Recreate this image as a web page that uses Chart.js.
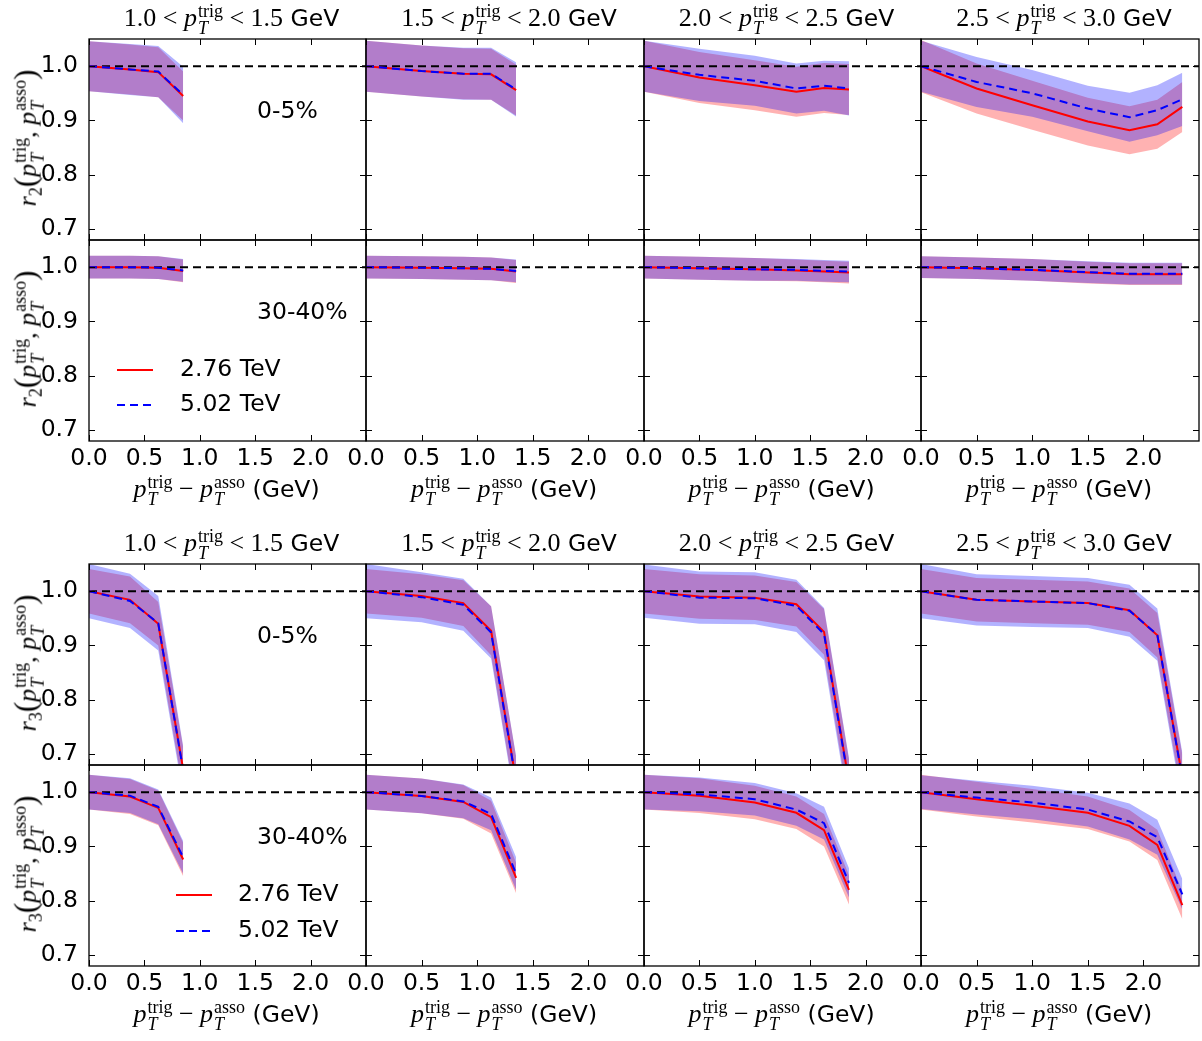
<!DOCTYPE html>
<html>
<head>
<meta charset="utf-8">
<script src="https://cdn.jsdelivr.net/npm/chart.js@4.4.1/dist/chart.umd.min.js"></script>
<style>
  body { margin: 0; background: #fff; }
  #fig { position: relative; width: 1202px; height: 1041px; overflow: hidden; }
  #fig canvas { position: absolute; }
  .lab { position: absolute; white-space: nowrap; font: 23.5px "DejaVu Sans", sans-serif; color: #000; line-height: 1; transform: translate(-50%, -50%); }
  .rot { transform: translate(-50%, -50%) rotate(-90deg); }
  .m { font-family: "Liberation Serif", "DejaVu Serif", serif; font-size: 26px; }
  .it { font-style: italic; }
  .ss { display: inline-block; vertical-align: -0.42em; font-size: 18px; line-height: 0.95; margin-left: 1px; }
  .ss span { display: block; }
  .sb { font-size: 18px; vertical-align: -0.35em; }
  .par { font-size: 31px; }
</style>
</head>
<body>
<div id="fig"></div>
<script>
// axis setup
const xTicks = [0, 0.5, 1.0, 1.5, 2.0];
const yTicks = [0.7, 0.8, 0.9, 1.0];
const xRange = [0, 2.5];
const yRange = [0.68, 1.05];
const unity = [1, 1];
const trigBins = ['1.0', '1.5', '2.0', '2.5', '3.0'];
const centralities = ['0-5%', '30-40%'];
const energies = ['2.76 TeV', '5.02 TeV'];

// pT^trig - pT^asso points, one list per trigger bin (column)
const dpT = [
  [0, 0.37, 0.625, 0.85],
  [0, 0.5, 0.875, 1.125, 1.35],
  [0, 0.5, 1.0, 1.375, 1.625, 1.85],
  [0, 0.5, 1.0, 1.5, 1.875, 2.125, 2.35]
];

// r2, 0-5%
const r2Cent276 = [
  [1.0, 0.994, 0.989, 0.945],
  [1.0, 0.991, 0.986, 0.985, 0.956],
  [1.0, 0.979, 0.965, 0.953, 0.960, 0.957],
  [1.0, 0.959, 0.928, 0.898, 0.882, 0.893, 0.925]
];
const r2Cent276Err = [
  [0.046, 0.046, 0.046, 0.045],
  [0.047, 0.047, 0.047, 0.047, 0.047],
  [0.047, 0.047, 0.046, 0.046, 0.046, 0.047],
  [0.048, 0.046, 0.045, 0.044, 0.044, 0.045, 0.046]
];
const r2Cent502 = [
  [1.0, 0.994, 0.990, 0.947],
  [1.0, 0.991, 0.986, 0.986, 0.957],
  [1.0, 0.984, 0.973, 0.959, 0.964, 0.959],
  [1.0, 0.971, 0.950, 0.922, 0.906, 0.919, 0.939]
];
const r2Cent502Err = [
  [0.046, 0.047, 0.047, 0.052],
  [0.047, 0.047, 0.048, 0.048, 0.050],
  [0.047, 0.048, 0.046, 0.046, 0.046, 0.050],
  [0.047, 0.046, 0.043, 0.042, 0.045, 0.046, 0.049]
];

// r2, 30-40%
const r2Peri276 = [
  [1.0, 1.0, 0.999, 0.993],
  [1.0, 0.999, 0.998, 0.997, 0.992],
  [1.0, 0.998, 0.996, 0.994, 0.992, 0.990],
  [1.0, 0.998, 0.995, 0.990, 0.987, 0.987, 0.987]
];
const r2Peri276Err = [
  [0.021, 0.021, 0.021, 0.021],
  [0.021, 0.021, 0.021, 0.021, 0.021],
  [0.021, 0.021, 0.021, 0.020, 0.020, 0.020],
  [0.020, 0.020, 0.020, 0.020, 0.020, 0.020, 0.020]
];
const r2Peri502 = [
  [1.0, 1.0, 0.999, 0.994],
  [1.0, 0.999, 0.998, 0.997, 0.993],
  [1.0, 0.998, 0.996, 0.995, 0.993, 0.992],
  [1.0, 0.998, 0.995, 0.991, 0.988, 0.988, 0.988]
];
const r2Peri502Err = [
  [0.021, 0.021, 0.021, 0.021],
  [0.021, 0.021, 0.021, 0.021, 0.021],
  [0.021, 0.021, 0.021, 0.020, 0.020, 0.020],
  [0.020, 0.020, 0.020, 0.020, 0.020, 0.020, 0.020]
];

// r3, 0-5%
const r3Cent276 = [
  [1.0, 0.984, 0.940, 0.672],
  [1.0, 0.991, 0.978, 0.927, 0.650],
  [1.0, 0.990, 0.988, 0.976, 0.925, 0.648],
  [1.0, 0.984, 0.981, 0.978, 0.965, 0.919, 0.658]
];
const r3Cent276Err = [
  [0.041, 0.043, 0.040, 0.040],
  [0.041, 0.040, 0.042, 0.045, 0.045],
  [0.041, 0.041, 0.041, 0.041, 0.042, 0.042],
  [0.041, 0.040, 0.040, 0.040, 0.040, 0.041, 0.041]
];
const r3Cent502 = [
  [1.0, 0.982, 0.941, 0.670],
  [1.0, 0.989, 0.975, 0.924, 0.648],
  [1.0, 0.988, 0.987, 0.973, 0.921, 0.645],
  [1.0, 0.984, 0.981, 0.978, 0.964, 0.920, 0.655]
];
const r3Cent502Err = [
  [0.050, 0.050, 0.050, 0.045],
  [0.050, 0.046, 0.048, 0.048, 0.048],
  [0.049, 0.048, 0.048, 0.048, 0.048, 0.048],
  [0.050, 0.047, 0.047, 0.046, 0.048, 0.048, 0.048]
];

// r3, 30-40%
const r3Peri276 = [
  [1.0, 0.992, 0.971, 0.876],
  [1.0, 0.993, 0.982, 0.954, 0.842],
  [1.0, 0.9935, 0.981, 0.962, 0.930, 0.820],
  [1.0, 0.987, 0.975, 0.962, 0.938, 0.903, 0.792]
];
const r3Peri276Err = [
  [0.032, 0.032, 0.032, 0.031],
  [0.032, 0.032, 0.031, 0.030, 0.028],
  [0.032, 0.032, 0.031, 0.030, 0.030, 0.027],
  [0.032, 0.032, 0.031, 0.030, 0.029, 0.028, 0.026]
];
const r3Peri502 = [
  [1.0, 0.9935, 0.973, 0.880],
  [1.0, 0.993, 0.983, 0.960, 0.850],
  [1.0, 0.996, 0.987, 0.968, 0.943, 0.833],
  [1.0, 0.990, 0.981, 0.968, 0.946, 0.917, 0.812]
];
const r3Peri502Err = [
  [0.032, 0.032, 0.032, 0.030],
  [0.032, 0.032, 0.031, 0.030, 0.030],
  [0.032, 0.031, 0.030, 0.030, 0.030, 0.027],
  [0.031, 0.031, 0.031, 0.031, 0.033, 0.032, 0.028]
];

const rowsSpec = [
  { obs: '2', cent: 0, red: r2Cent276, redErr: r2Cent276Err, blue: r2Cent502, blueErr: r2Cent502Err },
  { obs: '2', cent: 1, red: r2Peri276, redErr: r2Peri276Err, blue: r2Peri502, blueErr: r2Peri502Err },
  { obs: '3', cent: 0, red: r3Cent276, redErr: r3Cent276Err, blue: r3Cent502, blueErr: r3Cent502Err },
  { obs: '3', cent: 1, red: r3Peri276, redErr: r3Peri276Err, blue: r3Peri502, blueErr: r3Peri502Err }
];

// legend placement (relative to plot area) for the peripheral rows
const legendPos = { 1: { x0: 28, x1: 64, y: 130, dy: 35, tx: 91 }, 3: { x0: 87, x1: 123, y: 130, dy: 36, tx: 149 } };

const colLeft = [89, 366, 644, 921], colRight = [366, 644, 921, 1199];
const rowTop = [39, 240, 564, 765], rowH = 201;
const FONT = '"DejaVu Sans", sans-serif';
const FSIZE = 23.5;

// frame box + inward ticks on all four sides, y tick labels on the first column
const framePlugin = {
  id: 'frame',
  afterDatasetsDraw(chart, args, opts) {
    const { ctx, chartArea: a, scales } = chart;
    ctx.save();
    ctx.strokeStyle = '#000';
    ctx.lineWidth = 1.3;
    ctx.strokeRect(a.left, a.top, a.right - a.left, a.bottom - a.top);
    ctx.lineWidth = 1;
    ctx.beginPath();
    xTicks.forEach(v => {
      const px = Math.round(scales.x.getPixelForValue(v)) + 0.5;
      ctx.moveTo(px, a.bottom); ctx.lineTo(px, a.bottom - 6);
      ctx.moveTo(px, a.top); ctx.lineTo(px, a.top + 6);
    });
    yTicks.forEach(v => {
      const py = Math.round(scales.y.getPixelForValue(v)) + 0.5;
      ctx.moveTo(a.left, py); ctx.lineTo(a.left + 6, py);
      ctx.moveTo(a.right, py); ctx.lineTo(a.right - 6, py);
    });
    ctx.stroke();
    if (opts.yLabels) {
      ctx.fillStyle = '#000';
      ctx.font = FSIZE + 'px ' + FONT;
      ctx.textAlign = 'right';
      ctx.textBaseline = 'middle';
      yTicks.forEach(v => ctx.fillText(v.toFixed(1), a.left - 11, scales.y.getPixelForValue(v)));
    }
    ctx.restore();
  }
};

// centrality tag and legend inside the first column
const panelText = {
  id: 'panelText',
  afterDraw(chart, args, opts) {
    if (!opts.label) return;
    const { ctx, chartArea: a } = chart;
    ctx.save();
    ctx.fillStyle = '#000';
    ctx.font = FSIZE + 'px ' + FONT;
    ctx.textAlign = 'left';
    ctx.textBaseline = 'middle';
    ctx.fillText(opts.label, a.left + 168, a.top + 73);
    const lg = opts.legend;
    if (lg) {
      const sets = [chart.data.datasets[5], chart.data.datasets[6]];
      sets.forEach((ds, i) => {
        const y = a.top + lg.y + i * lg.dy;
        ctx.strokeStyle = ds.borderColor;
        ctx.lineWidth = ds.borderWidth;
        ctx.setLineDash(ds.borderDash || []);
        ctx.beginPath();
        ctx.moveTo(a.left + lg.x0, y);
        ctx.lineTo(a.left + lg.x1, y);
        ctx.stroke();
        ctx.setLineDash([]);
        ctx.fillText(ds.label, a.left + lg.tx, y);
      });
    }
    ctx.restore();
  }
};

const fig = document.getElementById('fig');

function addLabel(html, cx, cy, cls) {
  const d = document.createElement('div');
  d.className = 'lab' + (cls ? ' ' + cls : '');
  d.innerHTML = html;
  d.style.left = cx + 'px';
  d.style.top = cy + 'px';
  fig.appendChild(d);
}

function pT(tag) {
  return '<span class="m it">p</span><span class="ss m"><span>' + tag + '</span><span class="it">T</span></span>';
}

rowsSpec.forEach((spec, r) => {
  for (let c = 0; c < 4; c++) {
    const showX = r === 1 || r === 3;
    const showY = c === 0;
    const colW = colRight[c] - colLeft[c];
    const L = showY ? 100 : 30, R = 10, T = 15, B = showX ? 50 : 15;
    const cv = document.createElement('canvas');
    cv.width = colW + L + R;
    cv.height = rowH + T + B;
    cv.style.left = (colLeft[c] - L) + 'px';
    cv.style.top = (rowTop[r] - T) + 'px';
    fig.appendChild(cv);

    const xs = dpT[c];
    const pts = (vals, err, sign) => xs.map((x, i) => ({ x: x, y: vals[c][i] + sign * (err ? err[c][i] : 0) }));

    new Chart(cv, {
      type: 'line',
      data: {
        datasets: [
          { label: 'lo276', data: pts(spec.red, spec.redErr, -1), borderWidth: 0, pointRadius: 0, fill: false, order: 10, clip: 0 },
          { label: 'hi276', data: pts(spec.red, spec.redErr, 1), borderWidth: 0, pointRadius: 0, backgroundColor: 'rgba(255,0,0,0.3)', fill: '-1', order: 9, clip: 0 },
          { label: 'lo502', data: pts(spec.blue, spec.blueErr, -1), borderWidth: 0, pointRadius: 0, fill: false, order: 8, clip: 0 },
          { label: 'hi502', data: pts(spec.blue, spec.blueErr, 1), borderWidth: 0, pointRadius: 0, backgroundColor: 'rgba(0,0,255,0.3)', fill: '-1', order: 7, clip: 0 },
          { label: 'unity', data: xRange.map((x, i) => ({ x: x, y: unity[i] })), borderColor: '#000', borderWidth: 2, borderDash: [8, 5], pointRadius: 0, fill: false, order: 3, clip: 0 },
          { label: energies[0], data: pts(spec.red, null, 0), borderColor: '#ff0000', borderWidth: 2, pointRadius: 0, fill: false, order: 2, clip: 0 },
          { label: energies[1], data: pts(spec.blue, null, 0), borderColor: '#0000ff', borderWidth: 2, borderDash: [8, 5], pointRadius: 0, fill: false, order: 1, clip: 0 }
        ]
      },
      options: {
        responsive: false,
        animation: false,
        devicePixelRatio: 1,
        events: [],
        layout: { padding: { top: T, right: R, left: 0, bottom: 0 } },
        plugins: {
          legend: { display: false },
          tooltip: { enabled: false },
          frame: { yLabels: showY },
          panelText: showY ? { label: centralities[spec.cent], legend: legendPos[r] || null } : {}
        },
        scales: {
          x: {
            type: 'linear', min: xRange[0], max: xRange[1],
            grid: { display: false, drawTicks: false }, border: { display: false },
            afterBuildTicks: s => { s.ticks = xTicks.map(v => ({ value: v })); },
            afterFit: s => { s.height = B; },
            ticks: { display: showX, padding: 4, autoSkip: false, maxRotation: 0, color: '#000', font: { family: FONT, size: FSIZE }, callback: v => v.toFixed(1) }
          },
          y: {
            type: 'linear', min: yRange[0], max: yRange[1],
            grid: { display: false, drawTicks: false }, border: { display: false },
            afterBuildTicks: s => { s.ticks = yTicks.map(v => ({ value: v })); },
            afterFit: s => { s.width = L; },
            ticks: { display: false }
          }
        }
      },
      plugins: [framePlugin, panelText]
    });

    const cx = (colLeft[c] + colRight[c]) / 2;
    if (r === 0 || r === 2) {
      addLabel('<span class="m">' + trigBins[c] + ' &lt; </span>' + pT('trig') + '<span class="m"> &lt; ' + trigBins[c + 1] + '</span> GeV', cx + 4, rowTop[r] - 19.5);
    }
    if (showX) {
      addLabel(pT('trig') + '<span class="m"> &minus; </span>' + pT('asso') + ' (GeV)', cx - 1, rowTop[r] + rowH + 49.5);
    }
    if (showY) {
      addLabel('<span class="m it">r</span><span class="m sb">' + spec.obs + '</span><span class="m par">(</span>' + pT('trig') + '<span class="m">, </span>' + pT('asso') + '<span class="m par">)</span>', 28, rowTop[r] + rowH / 2 - 2, 'rot');
    }
  }
});
</script>
</body>
</html>
